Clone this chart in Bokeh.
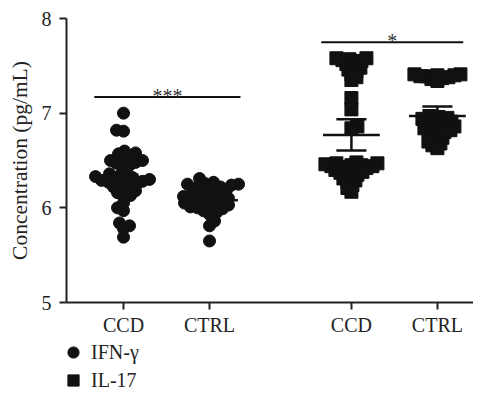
import numpy as np
from bokeh.plotting import figure
from bokeh.layouts import column
from bokeh.models import Range1d, FixedTicker, Legend, LegendItem
from bokeh.core.properties import value
from bokeh.embed import file_html
from bokeh.resources import INLINE

# ---------------- data ----------------
groups = ["CCD", "CTRL"]
cytokines = ["IFN-γ", "IL-17"]

ifn_ccd = [7.00, 6.82, 6.81,
           6.60, 6.58, 6.57, 6.55, 6.52, 6.50, 6.50, 6.48, 6.47, 6.45, 6.44,
           6.38, 6.36, 6.35, 6.33, 6.32, 6.31, 6.30, 6.30, 6.29, 6.28, 6.27,
           6.26, 6.25, 6.24, 6.22, 6.20, 6.18, 6.16,
           6.13, 6.12, 6.05, 6.00, 5.97, 5.84, 5.81, 5.78, 5.69]
ifn_ctrl = [6.31, 6.27, 6.26, 6.25, 6.25, 6.24, 6.23, 6.22, 6.21, 6.20,
            6.19, 6.18, 6.16, 6.15, 6.14, 6.13, 6.12, 6.11, 6.10, 6.10,
            6.09, 6.08, 6.07, 6.06, 6.05, 6.04, 6.03, 6.02, 6.01, 6.00,
            6.00, 5.99, 5.97, 5.95, 5.93, 5.86, 5.81, 5.65]
il17_ccd = [7.58, 7.58, 7.57, 7.56, 7.55, 7.55, 7.52, 7.50, 7.48, 7.46,
            7.44, 7.41, 7.38, 7.35,
            7.16, 7.04, 6.86, 6.84,
            6.48, 6.47, 6.47, 6.46, 6.45, 6.45, 6.44, 6.44, 6.43, 6.42,
            6.42, 6.41, 6.40, 6.39, 6.38, 6.37, 6.36, 6.35, 6.33, 6.31,
            6.29, 6.27, 6.24, 6.21, 6.17]
il17_ctrl = [7.41, 7.41, 7.40, 7.40, 7.39, 7.39, 7.38, 7.37, 7.36, 7.34,
             6.97, 6.96, 6.95, 6.94, 6.93, 6.92, 6.91, 6.90, 6.89, 6.88,
             6.87, 6.86, 6.85, 6.84, 6.83, 6.82, 6.81, 6.80, 6.78, 6.76,
             6.74, 6.72, 6.70, 6.68, 6.66, 6.63]

means = [6.29, 6.08, 6.77, 6.97]
sems = [0.06, 0.03, 0.165, 0.10]

sig_labels = ["***", "*"]
sig_y = [7.17, 7.75]

# ---------------- layout ----------------
W = 473
H1, H2 = 338, 52
B_LEFT, B_TOP, B_BOTTOM = 66, 18, 36
frame_w = W - B_LEFT
frame_h = H1 - B_TOP - B_BOTTOM
pos = [1, 2, 3.65, 4.65]
x_start = 0.337
x_end = x_start + frame_w / 86.0
y_start, y_end = 5, 8
px_x = frame_w / (x_end - x_start)
px_y = frame_h / (y_end - y_start)

FONT = "Liberation Serif"
INK = "#111111"
TXT = "#222222"


def beeswarm(vals, dmin):
    """deterministic swarm offsets (data units) computed in pixel space"""
    order = np.argsort(vals, kind="stable")
    placed = []
    offs = np.zeros(len(vals))
    for n, i in enumerate(order):
        y = vals[i] * px_y
        chosen = 0.0
        for k in range(0, 200):
            cands = [k, -k] if n % 2 == 0 else [-k, k]
            ok = None
            for c in cands:
                if all((c - qx) ** 2 + (y - qy) ** 2 >= dmin ** 2 for qx, qy in placed):
                    ok = c
                    break
            if ok is not None:
                chosen = ok
                break
        placed.append((chosen, y))
        offs[i] = chosen / px_x
    return offs


p = figure(width=W, height=H1, output_backend="svg", toolbar_location=None,
           x_range=Range1d(x_start, x_end), y_range=Range1d(y_start, y_end),
           min_border_left=B_LEFT, min_border_right=0, min_border_top=B_TOP,
           min_border_bottom=B_BOTTOM)
p.outline_line_color = None
p.grid.visible = False
p.background_fill_color = "white"
p.border_fill_color = "white"

# points
ifn_x, ifn_y, il_x, il_y = [], [], [], []
for k, vals in enumerate([ifn_ccd, ifn_ctrl]):
    v = np.array(vals)
    ifn_x += list(pos[k] + beeswarm(v, 6.5))
    ifn_y += list(v)
for k, vals in enumerate([il17_ccd, il17_ctrl]):
    v = np.array(vals)
    il_x += list(pos[k + 2] + beeswarm(v, 5.5))
    il_y += list(v)

p.scatter(x=ifn_x, y=ifn_y, marker="circle", size=12, fill_color=INK, line_color=INK)
p.scatter(x=il_x, y=il_y, marker="square", size=13, fill_color=INK, line_color=INK)

# mean and SEM
m = np.array(means)
s = np.array(sems)
px = np.array(pos)
p.segment(x0=px - 0.33, y0=m, x1=px + 0.33, y1=m, line_color=INK, line_width=2.5)
p.segment(x0=px, y0=m - s, x1=px, y1=m + s, line_color=INK, line_width=2.5)
p.segment(x0=px - 0.175, y0=m + s, x1=px + 0.175, y1=m + s, line_color=INK, line_width=2.5)
p.segment(x0=px - 0.175, y0=m - s, x1=px + 0.175, y1=m - s, line_color=INK, line_width=2.5)

# significance
sx0 = [pos[0] - 0.34, pos[2] - 0.35]
sx1 = [pos[1] + 0.36, pos[3] + 0.30]
p.segment(x0=sx0, y0=sig_y, x1=sx1, y1=sig_y, line_color=INK, line_width=2)
p.text(x=[(a + b) / 2 for a, b in zip(sx0, sx1)], y=sig_y, text=sig_labels,
       text_font=value(FONT), text_font_size="20px", text_align="center",
       text_baseline="alphabetic", y_offset=-1, text_color="#333333")

# axes
p.yaxis.ticker = FixedTicker(ticks=[5, 6, 7, 8])
p.yaxis.axis_label = "Concentration (pg/mL)"
p.yaxis.axis_label_text_font = FONT
p.yaxis.axis_label_text_font_style = "normal"
p.yaxis.axis_label_text_font_size = "21.5px"
p.yaxis.axis_label_text_color = TXT
p.yaxis.axis_label_standoff = 7
p.yaxis.major_label_standoff = 8

p.xaxis.ticker = FixedTicker(ticks=pos)
p.xaxis.major_label_overrides = {1: groups[0], 2: groups[1], 3.65: groups[0], 4.65: groups[1]}
p.xaxis.major_label_standoff = 4

for ax in (p.xaxis, p.yaxis):
    ax.major_label_text_font = FONT
    ax.major_label_text_font_size = "20px"
    ax.major_label_text_color = TXT
    ax.axis_line_width = 2
    ax.axis_line_color = TXT
    ax.major_tick_line_width = 2
    ax.major_tick_line_color = TXT
    ax.major_tick_out = 7
    ax.major_tick_in = 0
    ax.minor_tick_line_color = None

# legend in a strip below the plot (its glyphs fall outside the strip's range)
p2 = figure(width=W, height=H2, output_backend="svg", toolbar_location=None,
            x_range=Range1d(0, 1), y_range=Range1d(0, 1),
            x_axis_location=None, y_axis_location=None,
            min_border_left=B_LEFT, min_border_right=0,
            min_border_top=0, min_border_bottom=0)
p2.outline_line_color = None
p2.grid.visible = False
l_ifn = p2.scatter(x=ifn_x, y=ifn_y, marker="circle", size=12, fill_color=INK, line_color=INK)
l_il = p2.scatter(x=il_x, y=il_y, marker="square", size=13, fill_color=INK, line_color=INK)
legend = Legend(items=[LegendItem(label=cytokines[0], renderers=[l_ifn]),
                       LegendItem(label=cytokines[1], renderers=[l_il])],
                location=(-7, -4), orientation="vertical",
                glyph_width=28, glyph_height=28, label_height=28,
                label_standoff=4, spacing=0, padding=0, margin=0,
                border_line_color=None, background_fill_alpha=0,
                label_text_font=FONT, label_text_font_size="20px",
                label_text_color=TXT)
p2.add_layout(legend)

layout = column(p, p2, spacing=0)
open("out.html", "w").write(file_html(layout, INLINE))
